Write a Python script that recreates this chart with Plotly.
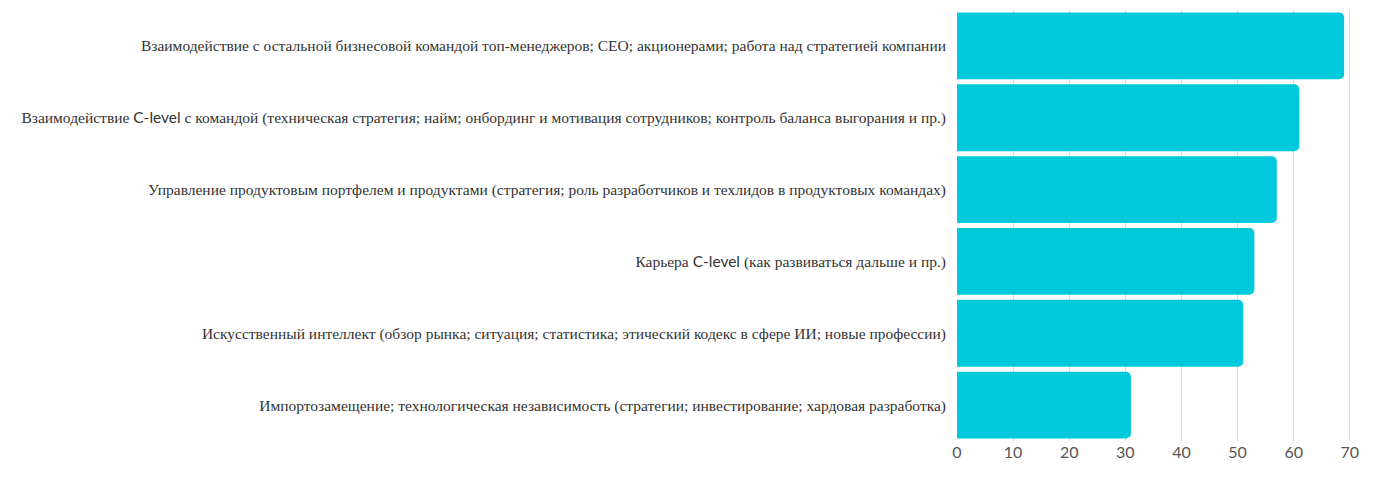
import plotly.graph_objects as go

CL = '<span style="font-family:Lato, sans-serif">C-level</span>'

# Topics, top to bottom as shown
topics = [
    "Взаимодействие с остальной бизнесовой командой топ-менеджеров; CEO; акционерами; работа над стратегией компании",
    f"Взаимодействие {CL} с командой (техническая стратегия; найм; онбординг и мотивация сотрудников; контроль баланса выгорания и пр.)",
    "Управление продуктовым портфелем и продуктами (стратегия; роль разработчиков и техлидов в продуктовых командах)",
    f"Карьера {CL} (как развиваться дальше и пр.)",
    "Искусственный интеллект (обзор рынка; ситуация; статистика; этический кодекс в сфере ИИ; новые профессии)",
    "Импортозамещение; технологическая независимость (стратегии; инвестирование; хардовая разработка)",
]
votes = [69, 61, 57, 53, 51, 31]
tick_vals = [0, 10, 20, 30, 40, 50, 60, 70]

fig = go.Figure(go.Bar(
    x=votes,
    y=topics,
    orientation="h",
    marker=dict(color="#00C9DB", cornerradius=5, line=dict(width=0)),
    hoverinfo="x+y",
))

fig.update_layout(
    width=1400,
    height=482,
    paper_bgcolor="white",
    plot_bgcolor="white",
    bargap=0.07,
    showlegend=False,
    margin=dict(l=949, r=47, t=2, b=49),
    font=dict(family="Liberation Serif, serif", size=15.5, color="#333"),
    xaxis=dict(
        range=[0, 72],
        tickvals=tick_vals,
        showgrid=True,
        gridcolor="#d9d9d9",
        gridwidth=1,
        zeroline=False,
        tickfont=dict(family="Lato, sans-serif", size=16, color="#555"),
        fixedrange=True,
    ),
    yaxis=dict(
        autorange="reversed",
        showgrid=False,
        ticklabelstandoff=10,
        tickfont=dict(family="Liberation Serif, serif", size=15.5, color="#333"),
        fixedrange=True,
    ),
)

fig.write_html("out.html")
